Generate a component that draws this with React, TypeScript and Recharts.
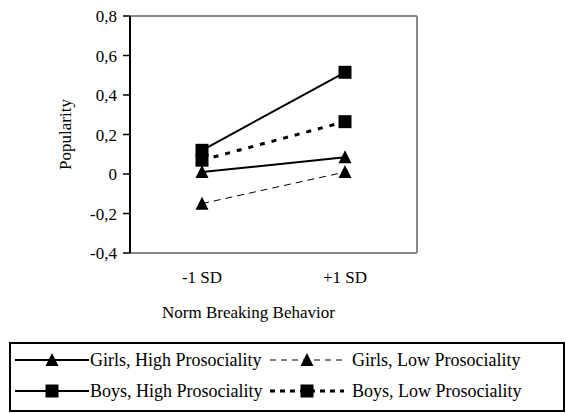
import React from 'react';
import { LineChart, Line, XAxis, YAxis } from 'recharts';

const categories = ['-1 SD', '+1 SD'];
const girlsHigh = [0.01, 0.085];
const girlsLow = [-0.15, 0.01];
const boysHigh = [0.12, 0.515];
const boysLow = [0.07, 0.265];
const yTicks = [-0.4, -0.2, 0, 0.2, 0.4, 0.6, 0.8];

const data = categories.map((c, i) => ({
  cat: c,
  gh: girlsHigh[i],
  gl: girlsLow[i],
  bh: boysHigh[i],
  bl: boysLow[i],
}));

const FONT = "'Liberation Serif', 'DejaVu Serif', serif";
const GRAY = '#8a8a8a';

const Triangle = (props: any) => {
  const { cx, cy } = props;
  if (cx == null || cy == null) return null;
  return <path d={`M${cx},${cy - 7} L${cx + 6.5},${cy + 6} L${cx - 6.5},${cy + 6} Z`} fill="#000" stroke="none" />;
};
const Square = (props: any) => {
  const { cx, cy } = props;
  if (cx == null || cy == null) return null;
  return <rect x={cx - 6.5} y={cy - 6.5} width={13} height={13} fill="#000" stroke="none" />;
};

const fmt = (v: number) => (v === 0 ? '0' : String(v).replace('.', ','));

const XTick = (props: any) => {
  const { x, y, payload } = props;
  return (
    <text x={x} y={y} dy={12} textAnchor="middle" fill="#000" style={{ fontFamily: FONT, fontSize: 17 }}>
      {payload.value}
    </text>
  );
};
const YTick = (props: any) => {
  const { x, y, payload } = props;
  return (
    <text x={x} y={y} dy={6} textAnchor="end" fill="#000" style={{ fontFamily: FONT, fontSize: 17 }}>
      {fmt(payload.value)}
    </text>
  );
};

const LegendSym = ({ dash, width, marker }: { dash?: string; width: number; marker: 'tri' | 'sq' }) => (
  <svg width={74} height={16} style={{ display: 'block' }}>
    <line x1={0} y1={8} x2={74} y2={8} stroke="#000" strokeWidth={width} strokeDasharray={dash} />
    {marker === 'tri' ? (
      <path d="M37,1 L43.5,14 L30.5,14 Z" fill="#000" />
    ) : (
      <rect x={30.5} y={1.5} width={13} height={13} fill="#000" />
    )}
  </svg>
);

const legendItems = [
  { name: 'Girls, High Prosociality', dash: undefined, width: 2, marker: 'tri' as const },
  { name: 'Girls, Low Prosociality', dash: '6 5', width: 1, marker: 'tri' as const },
  { name: 'Boys, High Prosociality', dash: undefined, width: 2, marker: 'sq' as const },
  { name: 'Boys, Low Prosociality', dash: '5 5', width: 3, marker: 'sq' as const },
];

export default function App() {
  return (
    <div style={{ position: 'relative', width: 566, height: 414, background: '#fff', fontFamily: FONT }}>
      <style>{`body{margin:0;background:#fff;}`}</style>
      <LineChart width={566} height={330} data={data} margin={{ top: 15, right: 148, left: 0, bottom: 0 }}>
        <XAxis
          dataKey="cat"
          padding={{ left: 72, right: 72 }}
          axisLine={{ stroke: GRAY, strokeWidth: 2 }}
          tickLine={false}
          tickSize={6}
          tickMargin={12}
          height={77}
          tick={<XTick />}
          label={(p: any) => {
            const vb = p.viewBox || {};
            return (
              <text x={vb.x + vb.width / 2 - 25} y={vb.y + 65} textAnchor="middle" fill="#000" style={{ fontFamily: FONT, fontSize: 17 }}>
                Norm Breaking Behavior
              </text>
            );
          }}
        />
        <XAxis xAxisId="top" orientation="top" dataKey="cat" height={1} tick={false} tickLine={false} axisLine={{ stroke: GRAY, strokeWidth: 2 }} />
        <YAxis
          domain={[-0.4, 0.8]}
          ticks={yTicks}
          width={130}
          axisLine={{ stroke: '#000', strokeWidth: 2 }}
          tickLine={{ stroke: '#000', strokeWidth: 1.5 }}
          tickSize={7}
          tickMargin={6}
          tick={<YTick />}
          label={(p: any) => {
            const vb = p.viewBox || {};
            const cy = vb.y + vb.height / 2;
            return (
              <text x={65} y={cy} transform={`rotate(-90, 65, ${cy})`} textAnchor="middle" dominantBaseline="central" fill="#000" style={{ fontFamily: FONT, fontSize: 17 }}>
                Popularity
              </text>
            );
          }}
        />
        <YAxis yAxisId="right" orientation="right" width={1} domain={[0, 1]} tick={false} tickLine={false} axisLine={{ stroke: GRAY, strokeWidth: 2 }} />
        <Line dataKey="gl" stroke="#000" strokeWidth={1} strokeDasharray="7 5" dot={<Triangle />} activeDot={false} isAnimationActive={false} />
        <Line dataKey="bl" stroke="#000" strokeWidth={3} strokeDasharray="5 7" dot={<Square />} activeDot={false} isAnimationActive={false} />
        <Line dataKey="gh" stroke="#000" strokeWidth={2} dot={<Triangle />} activeDot={false} isAnimationActive={false} />
        <Line dataKey="bh" stroke="#000" strokeWidth={2} dot={<Square />} activeDot={false} isAnimationActive={false} />
      </LineChart>
      <div
        style={{
          position: 'absolute',
          left: 9,
          top: 342,
          width: 556,
          height: 70,
          boxSizing: 'border-box',
          border: '2px solid #000',
          fontSize: 18,
          color: '#000',
          fontFamily: FONT,
        }}
      >
        {legendItems.map((it, i) => {
          const row = Math.floor(i / 2);
          const col = i % 2;
          return (
            <div
              key={it.name}
              style={{
                position: 'absolute',
                left: col === 0 ? 4 : 259,
                top: row === 0 ? 6 : 37,
                display: 'flex',
                alignItems: 'center',
                height: 20,
                whiteSpace: 'nowrap',
              }}
            >
              <LegendSym dash={it.dash} width={it.width} marker={it.marker} />
              <span style={{ marginLeft: col === 0 ? 1 : 8, fontFamily: FONT }}>{it.name}</span>
            </div>
          );
        })}
      </div>
    </div>
  );
}
